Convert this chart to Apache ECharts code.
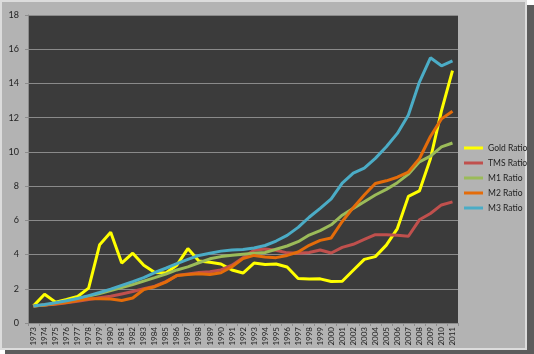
<!DOCTYPE html>
<html><head><meta charset="utf-8">
<script src="https://cdn.jsdelivr.net/npm/echarts@6/dist/echarts.min.js"></script>
<style>html,body{margin:0;padding:0;background:#ffffff;}#c{width:534px;height:354px;}</style>
</head><body><div id="c"></div>
<script>
var years = ['1973','1974','1975','1976','1977','1978','1979','1980','1981','1982','1983','1984','1985','1986','1987','1988','1989','1990','1991','1992','1993','1994','1995','1996','1997','1998','1999','2000','2001','2002','2003','2004','2005','2006','2007','2008','2009','2010','2011'];
var goldRatio = [1.0,1.68,1.22,1.37,1.55,2.04,4.58,5.3,3.5,4.08,3.38,2.95,2.92,3.38,4.35,3.63,3.55,3.45,3.1,2.92,3.5,3.42,3.45,3.27,2.6,2.57,2.58,2.43,2.44,3.08,3.72,3.88,4.55,5.52,7.4,7.72,9.6,12.4,14.75];
var tmsRatio = [1.0,1.05,1.1,1.18,1.27,1.37,1.47,1.56,1.7,1.84,2.0,2.15,2.42,2.77,2.86,2.95,3.0,3.1,3.38,3.82,4.25,4.33,4.25,4.1,4.07,4.12,4.27,4.09,4.42,4.6,4.88,5.16,5.16,5.13,5.07,6.03,6.4,6.9,7.08];
var m1Ratio = [1.0,1.05,1.14,1.28,1.42,1.57,1.72,1.89,2.07,2.25,2.45,2.65,2.86,3.1,3.28,3.52,3.75,3.88,3.96,4.02,4.08,4.12,4.31,4.5,4.75,5.14,5.4,5.74,6.3,6.7,7.09,7.48,7.81,8.2,8.7,9.42,9.75,10.29,10.52];
var m2Ratio = [1.0,1.05,1.12,1.2,1.32,1.42,1.42,1.4,1.32,1.46,1.96,2.12,2.39,2.78,2.84,2.88,2.84,2.94,3.29,3.76,3.95,3.86,3.82,3.95,4.15,4.54,4.83,4.97,5.93,6.74,7.48,8.15,8.31,8.52,8.82,9.6,10.9,11.93,12.38];
var m3Ratio = [1.0,1.08,1.18,1.3,1.43,1.6,1.78,1.98,2.2,2.42,2.65,2.95,3.2,3.47,3.72,3.95,4.08,4.2,4.27,4.3,4.38,4.53,4.79,5.12,5.59,6.18,6.7,7.25,8.18,8.76,9.05,9.62,10.3,11.08,12.15,14.08,15.5,15.03,15.32];
var yTicks = [0,2,4,6,8,10,12,14,16,18];

var names = ['Gold Ratio','TMS Ratio','M1 Ratio','M2 Ratio','M3 Ratio'];
var colors = ['#ffff00','#c0504d','#9bbb59','#e46c0a','#4bacc6'];
var dataSets = [goldRatio, tmsRatio, m1Ratio, m2Ratio, m3Ratio];
var font = 'Lato, "Liberation Sans", sans-serif';

var chart = echarts.init(document.getElementById('c'), null, {renderer:'canvas'});
chart.setOption({
  animation:false,
  backgroundColor:'#ffffff',
  graphic:[
    {type:'rect', z:-10, shape:{x:526,y:5,width:8,height:349}, style:{fill:'#5c5c5c'}},
    {type:'rect', z:-10, shape:{x:5,y:349,width:529,height:5}, style:{fill:'#5c5c5c'}},
    {type:'rect', z:-9, shape:{x:1,y:1,width:525,height:348}, style:{fill:'#b3b3b3', stroke:'#dcdcdc', lineWidth:2}}
  ],
  grid:{left:28, right:76, top:15, bottom:31, show:true, backgroundColor:'#3b3b3b', borderWidth:0},
  legend:{
    orient:'vertical', left:464, top:142, itemWidth:19, itemHeight:3, itemGap:3, padding:0,
    icon:'rect',
    textStyle:{fontFamily:font, fontSize:8.5, color:'#1e1e1e', lineHeight:12},
    data:names
  },
  xAxis:{
    type:'category', data:years, boundaryGap:true,
    axisLine:{show:true, lineStyle:{color:'#8c8c8c', width:1}},
    axisTick:{show:true, length:3, lineStyle:{color:'#8c8c8c'}},
    axisLabel:{rotate:90, interval:0, fontFamily:font, fontSize:8, color:'#1e1e1e', margin:4}
  },
  yAxis:{
    type:'value', min:yTicks[0], max:yTicks[yTicks.length-1], interval:2,
    axisLine:{show:true, lineStyle:{color:'#8c8c8c'}},
    axisTick:{show:true, length:3, lineStyle:{color:'#8c8c8c'}},
    axisLabel:{fontFamily:font, fontSize:9, color:'#1e1e1e', margin:9},
    splitLine:{show:true, lineStyle:{color:'#8a8a8a', width:1}}
  },
  series: names.map(function(n,i){
    return {name:n, type:'line', data:dataSets[i], symbol:'none', smooth:false,
      lineStyle:{color:colors[i], width:3}, itemStyle:{color:colors[i]}};
  })
});
</script></body></html>
